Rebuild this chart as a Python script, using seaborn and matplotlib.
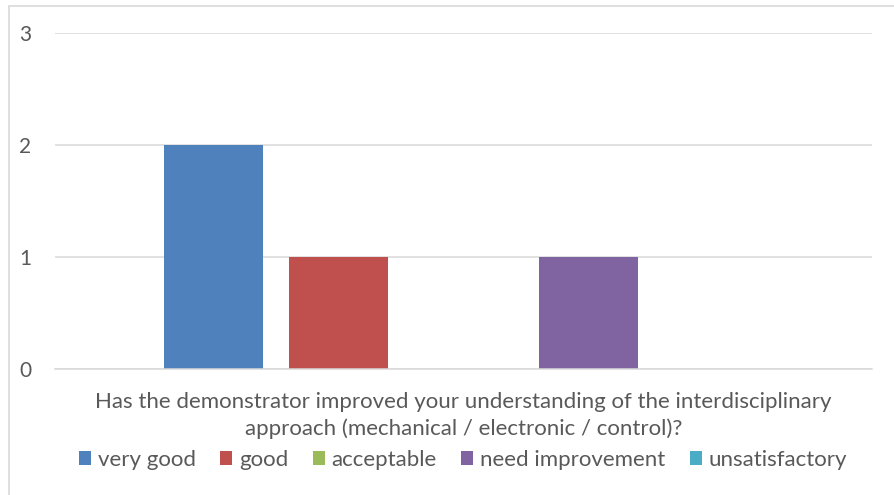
import textwrap
import pandas as pd
import seaborn as sns
import matplotlib.pyplot as plt
from matplotlib.patches import Rectangle

question = "Has the demonstrator improved your understanding of the interdisciplinary approach (mechanical / electronic / control)?"
ratings = ["very good", "good", "acceptable", "need improvement", "unsatisfactory"]
counts = [2, 1, 0, 1, 0]
colors = ["#4F81BD", "#C0504D", "#9BBB59", "#8064A2", "#4BACC6"]

df = pd.DataFrame({"question": [question] * len(ratings), "rating": ratings, "count": counts})

sns.set_style("white")
plt.rcParams['font.family'] = ['Lato', 'DejaVu Sans']
text_grey = "#595959"
grid_grey = "#D9D9D9"
fsize = 16

fig = plt.figure(figsize=(8.95, 4.95), dpi=100)
ax = fig.add_axes([55 / 895, 1 - 369 / 495, (872 - 55) / 895, (369 - 33) / 495])

sns.barplot(data=df, x="question", y="count", hue="rating", hue_order=ratings,
            palette=colors, width=0.765, gap=0.21, saturation=1, linewidth=0, ax=ax)

ax.set_ylim(0, 3)
ax.set_yticks([0, 1, 2, 3])
ax.yaxis.grid(True, color=grid_grey, linewidth=1.1)
ax.set_axisbelow(True)
for s in ["top", "right", "left"]:
    ax.spines[s].set_visible(False)
ax.spines["bottom"].set_color(grid_grey)
ax.spines["bottom"].set_linewidth(1.1)
ax.tick_params(axis="y", length=0, pad=17, labelsize=15, labelcolor=text_grey)
ax.tick_params(axis="x", length=0, pad=16.5, labelsize=fsize, labelcolor=text_grey)
ax.set_xticks([0])
ax.set_xticklabels([textwrap.fill(question, 75)], linespacing=1.42, multialignment="center")
ax.set_xlabel("")
ax.set_ylabel("")

handles, labels = ax.get_legend_handles_labels()
ax.get_legend().remove()
fig.legend(handles, labels, loc="center", bbox_to_anchor=(463 / 895, 1 - 460 / 495),
           ncol=5, frameon=False, fontsize=fsize, labelcolor=text_grey,
           handlelength=0.55, handleheight=0.55, handletextpad=0.3, columnspacing=1.1)

# chart area border
fig.patches.append(Rectangle((9.5 / 895, -0.1), 1.1, 1 - 6.5 / 495 + 0.1, transform=fig.transFigure,
                             fill=False, edgecolor=grid_grey, linewidth=1.2))

fig.savefig("out.png", dpi=100)
